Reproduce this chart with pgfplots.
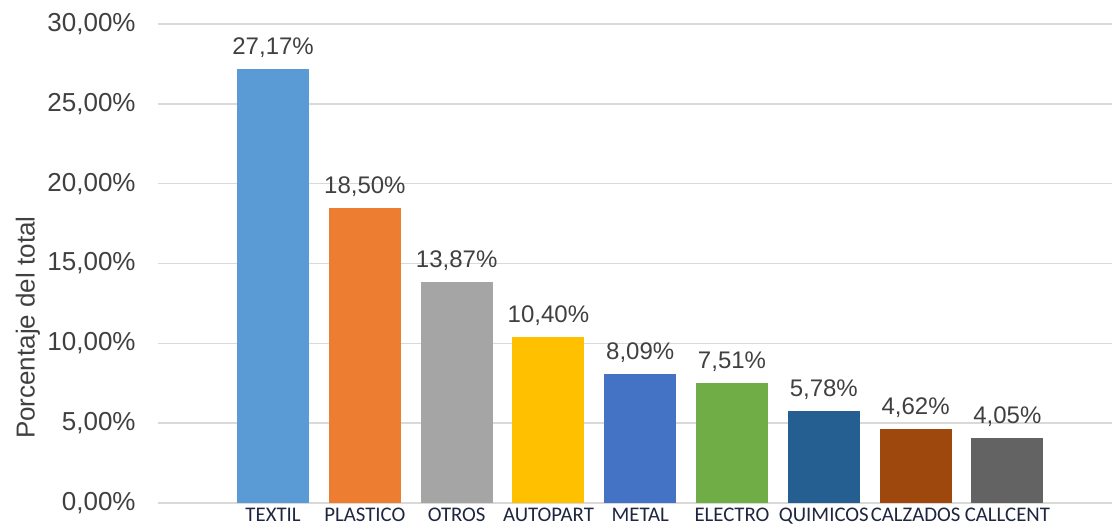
\documentclass[border=0pt]{standalone}
\usepackage{fontspec}
\setmainfont{Liberation Sans}
\newfontfamily\calib{Carlito}
\usepackage{pgfplots}
\pgfplotsset{compat=1.18}
\definecolor{cA}{HTML}{5B9BD5}
\definecolor{cB}{HTML}{ED7D31}
\definecolor{cC}{HTML}{A5A5A5}
\definecolor{cD}{HTML}{FFC000}
\definecolor{cE}{HTML}{4472C4}
\definecolor{cF}{HTML}{70AD47}
\definecolor{cG}{HTML}{255E91}
\definecolor{cH}{HTML}{9E480E}
\definecolor{cI}{HTML}{636363}
\definecolor{txt}{HTML}{404040}
\definecolor{xlab}{HTML}{1E2640}
\definecolor{grid}{HTML}{D9D9D9}
\begin{document}
\begin{tikzpicture}
\begin{axis}[
  scale only axis, width=477pt, height=239.5pt,
  xmin=-1.254, xmax=9.14, ymin=0, ymax=30,
  axis line style={draw=none},
  major tick length=0pt,
  ymajorgrids, grid style={color=grid, line width=0.75pt},
  ytick={0,5,10,15,20,25,30},
  yticklabels={{0,00\%},{5,00\%},{10,00\%},{15,00\%},{20,00\%},{25,00\%},{30,00\%}},
  yticklabel style={font=\fontsize{13}{13}\selectfont, color=txt, anchor=east, inner sep=0pt, xshift=-11pt},
  xtick={0,1,2,3,4,5,6,7,8},
  xticklabels={TEXTIL,PLASTICO,OTROS,AUTOPART,METAL,ELECTRO,QUIMICOS,CALZADOS,CALLCENT},
  xticklabel style={font=\calib\fontsize{10.4}{10.4}\selectfont, color=xlab, anchor=north, inner sep=0pt, yshift=-2.3pt},
  ylabel={Porcentaje del total},
  every axis y label/.style={at={(axis description cs:-0.1363,0.366)}, rotate=90, anchor=center, font=\fontsize{13}{13}\selectfont, color=txt},
  ybar, bar width=0.785, bar shift=0pt,
  /pgf/number format/assume math mode=true,
  nodes near coords={\pgfmathprintnumber[fixed,fixed zerofill,precision=2,use comma]{\pgfplotspointmeta}\%},
  every node near coord/.append style={anchor=base, inner sep=0pt, yshift=7.25pt, font=\fontsize{12}{12}\selectfont, color=txt},
  clip=false,
]
\coordinate (sw) at (rel axis cs:0,0);
\coordinate (ne) at (rel axis cs:1,1);
\addplot[fill=cA, draw=none] coordinates {(0,27.17)};
\addplot[fill=cB, draw=none] coordinates {(1,18.50)};
\addplot[fill=cC, draw=none] coordinates {(2,13.87)};
\addplot[fill=cD, draw=none] coordinates {(3,10.40)};
\addplot[fill=cE, draw=none] coordinates {(4,8.09)};
\addplot[fill=cF, draw=none] coordinates {(5,7.51)};
\addplot[fill=cG, draw=none] coordinates {(6,5.78)};
\addplot[fill=cH, draw=none] coordinates {(7,4.62)};
\addplot[fill=cI, draw=none] coordinates {(8,4.05)};
\end{axis}
\pgfresetboundingbox
\path[use as bounding box] ([xshift=-79pt,yshift=-11pt]sw) rectangle ([yshift=12pt]ne);
\end{tikzpicture}
\end{document}
